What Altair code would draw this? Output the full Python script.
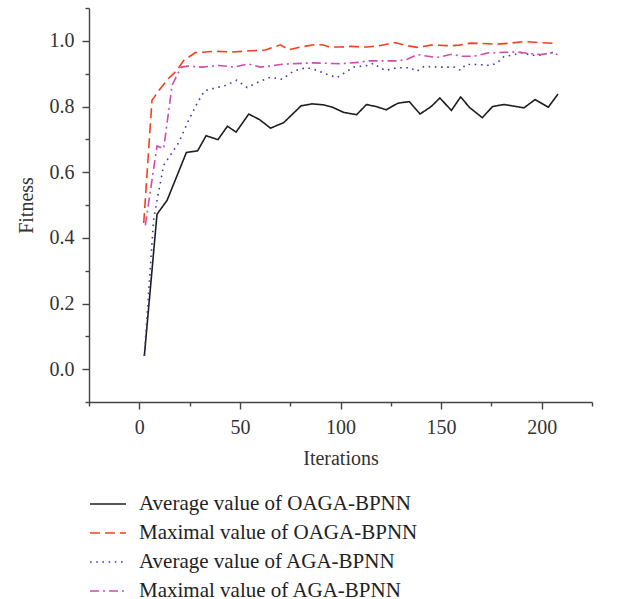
import altair as alt
import pandas as pd

series_names = [
    "Average value of OAGA-BPNN",
    "Maximal value of OAGA-BPNN",
    "Average value of AGA-BPNN",
    "Maximal value of AGA-BPNN",
]
series_colors = ["#1e1e1e", "#f2401f", "#3a3ab8", "#d24aae"]

avg_oaga_x = [2.5, 8.8, 13.8, 23.4, 29.0, 33.2, 39.1, 43.8, 48.1, 54.4, 59.8, 65.2, 71.8, 80.4, 85.9, 91.7, 95.9,
              101.6, 108.0, 112.9, 117.6, 122.7, 128.5, 134.2, 139.5, 145.1, 149.4, 155.1, 159.7, 164.3, 170.5,
              175.6, 181.3, 191.2, 196.7, 203.3, 208.1]
avg_oaga_y = [0.04, 0.472, 0.514, 0.66, 0.665, 0.711, 0.699, 0.74, 0.722, 0.777, 0.76, 0.734, 0.751, 0.802, 0.808,
              0.805, 0.798, 0.782, 0.775, 0.806, 0.8, 0.79, 0.81, 0.815, 0.777, 0.8, 0.826, 0.788, 0.829, 0.796,
              0.766, 0.8, 0.806, 0.796, 0.821, 0.798, 0.838]

max_oaga_x = [2.2, 6.3, 10.0, 14.1, 18.7, 22.0, 27.9, 37.8, 46.0, 59.4, 62.7, 70.1, 74.3, 80.0, 86.7, 90.9, 95.0,
              100.0, 105.0, 113.3, 120.0, 127.0, 133.2, 138.2, 145.0, 155.0, 159.0, 164.7, 178.0, 184.6, 191.5,
              197.9, 207.8]
max_oaga_y = [0.445, 0.819, 0.851, 0.883, 0.91, 0.94, 0.964, 0.968, 0.966, 0.971, 0.972, 0.988, 0.973, 0.981,
              0.988, 0.988, 0.981, 0.981, 0.983, 0.981, 0.986, 0.995, 0.985, 0.98, 0.987, 0.985, 0.987, 0.993,
              0.99, 0.993, 0.998, 0.995, 0.992]

avg_aga_x = [2.5, 7.1, 8.5, 12.1, 19.6, 24.5, 28.7, 32.4, 36.2, 42.8, 48.4, 53.6, 59.4, 65.2, 71.0, 74.3, 76.8,
             82.6, 85.9, 92.5, 98.3, 100.8, 106.6, 113.3, 116.6, 119.0, 122.4, 128.2, 134.8, 137.8, 141.5, 149.8,
             156.4, 159.7, 162.2, 168.0, 174.6, 178.0, 180.5, 186.3, 189.6, 195.4, 198.7, 205.3, 207.8]
avg_aga_y = [0.04, 0.454, 0.504, 0.621, 0.69, 0.758, 0.809, 0.848, 0.854, 0.864, 0.88, 0.858, 0.875, 0.889, 0.883,
             0.898, 0.908, 0.918, 0.915, 0.9, 0.888, 0.898, 0.92, 0.925, 0.932, 0.92, 0.91, 0.918, 0.918, 0.907,
             0.922, 0.92, 0.92, 0.91, 0.928, 0.928, 0.925, 0.933, 0.95, 0.958, 0.964, 0.956, 0.956, 0.964, 0.961]

max_aga_x = [3.0, 8.8, 12.1, 16.3, 20.8, 24.5, 31.2, 39.5, 47.4, 54.0, 60.2, 65.2, 70.0, 75.0, 86.7, 100.0, 110.0,
             113.3, 128.2, 133.2, 138.2, 148.0, 155.0, 160.5, 166.3, 173.0, 181.2, 187.9, 194.5, 199.5, 205.3, 207.8]
max_aga_y = [0.438, 0.68, 0.671, 0.865, 0.92, 0.923, 0.92, 0.925, 0.92, 0.93, 0.92, 0.923, 0.928, 0.93, 0.933,
             0.93, 0.935, 0.939, 0.939, 0.944, 0.958, 0.949, 0.959, 0.953, 0.953, 0.963, 0.965, 0.966, 0.961,
             0.958, 0.964, 0.958]

x_ticks = [-25, 0, 25, 50, 75, 100, 125, 150, 175, 200, 225]
y_ticks = [-0.1, 0.0, 0.1, 0.2, 0.3, 0.4, 0.5, 0.6, 0.7, 0.8, 0.9, 1.0, 1.1]

rows = []
for name, xs, ys in zip(series_names,
                        [avg_oaga_x, max_oaga_x, avg_aga_x, max_aga_x],
                        [avg_oaga_y, max_oaga_y, avg_aga_y, max_aga_y]):
    for i, (x, y) in enumerate(zip(xs, ys)):
        rows.append({"iter": x, "fitness": y, "series": name, "idx": i})
df = pd.DataFrame(rows)

FONT = "Liberation Serif"
AX = "#444444"

legend_def = alt.Legend(
    title=None, orient="none", legendX=0, legendY=477, direction="vertical",
    symbolType="stroke", symbolSize=1296, symbolStrokeWidth=1.6,
    labelFont=FONT, labelFontSize=21, labelColor="#222222", labelOffset=12,
    rowPadding=0, padding=0, labelLimit=450,
)

chart = alt.Chart(df).mark_line(strokeWidth=1.6, strokeCap="butt").encode(
    x=alt.X("iter:Q", title="Iterations",
            scale=alt.Scale(domain=[-25, 225], nice=False, zero=False),
            axis=alt.Axis(values=x_ticks, grid=False,
                          labelExpr="datum.value % 50 === 0 ? datum.value : ''",
                          tickSize={"condition": {"test": "datum.value % 50 === 0", "value": 7}, "value": 4},
                          labelPadding=8, titlePadding=11)),
    y=alt.Y("fitness:Q", title="Fitness",
            scale=alt.Scale(domain=[-0.1, 1.1], nice=False, zero=False),
            axis=alt.Axis(values=y_ticks, grid=False,
                          labelExpr="abs(datum.value*5 - round(datum.value*5)) < 0.001 ? format(datum.value, '.1f') : ''",
                          tickSize={"condition": {"test": "abs(datum.value*5 - round(datum.value*5)) < 0.001", "value": 7}, "value": 4},
                          labelPadding=8, titlePadding=13)),
    color=alt.Color("series:N", scale=alt.Scale(domain=series_names, range=series_colors), legend=legend_def),
    strokeDash=alt.StrokeDash("series:N",
                              scale=alt.Scale(domain=series_names,
                                              range=[[1, 0], [10, 5], [1.6, 4.6], [9, 4, 2, 4]]),
                              legend=legend_def),
    order="idx:Q",
).properties(
    width=503, height=394,
    autosize=alt.AutoSizeParams(type="none"),
    padding={"left": 89, "top": 8, "right": 38, "bottom": 197},
).configure_view(stroke=None).configure_axis(
    domainColor=AX, tickColor=AX, domainWidth=1.4, tickWidth=1.4,
    labelFont=FONT, labelFontSize=20, labelColor="#333333",
    titleFont=FONT, titleFontSize=20, titleColor="#333333", titleFontWeight="normal",
)

chart.save("out.html", embed_options={"renderer": "svg", "actions": False})
